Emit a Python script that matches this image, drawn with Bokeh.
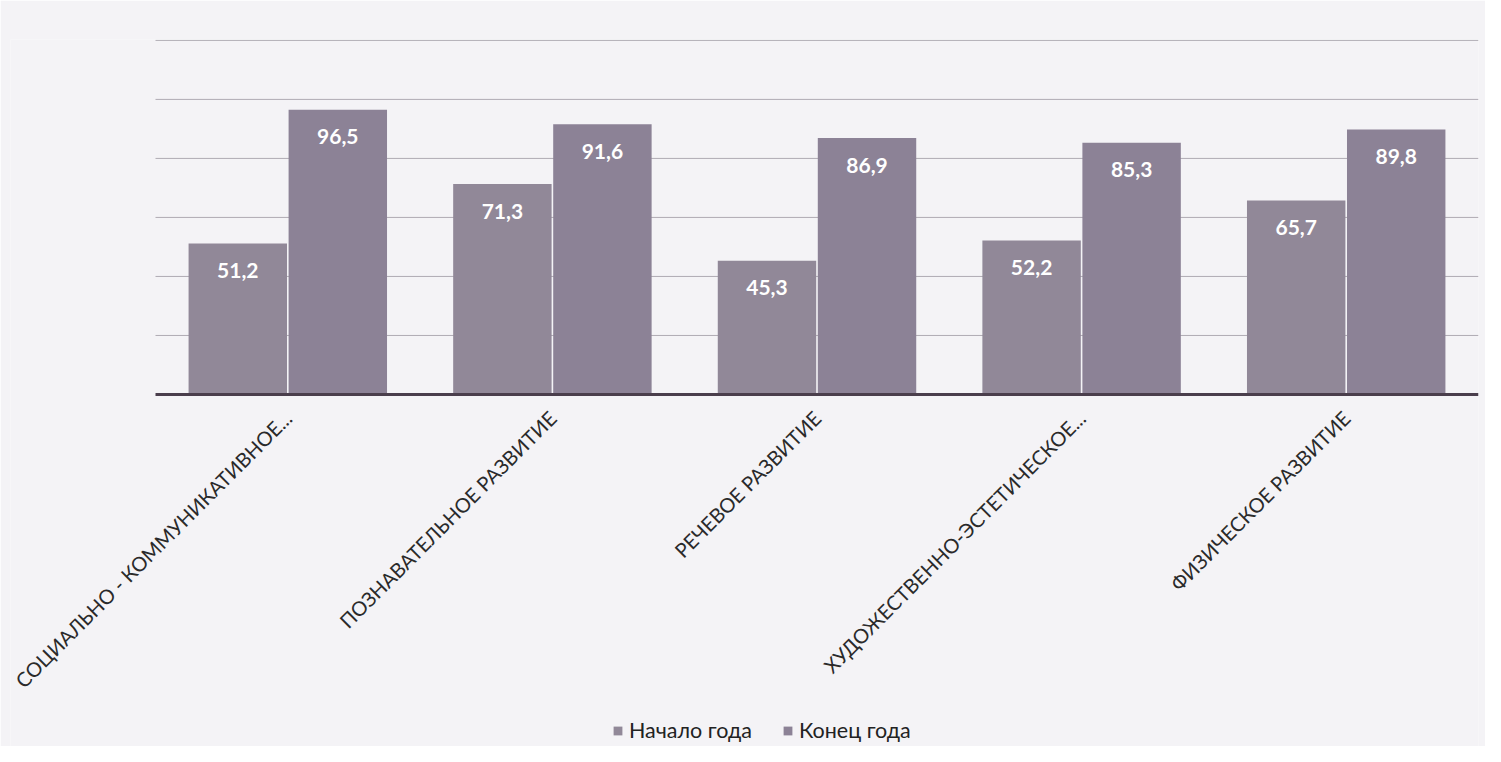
import math
from bokeh.plotting import figure
from bokeh.models import ColumnDataSource, Legend, LegendItem, FixedTicker
from bokeh.transform import dodge
from bokeh.core.properties import value
from bokeh.embed import file_html
from bokeh.resources import INLINE

categories = [
    "СОЦИАЛЬНО - КОММУНИКАТИВНОЕ...",
    "ПОЗНАВАТЕЛЬНОЕ РАЗВИТИЕ",
    "РЕЧЕВОЕ РАЗВИТИЕ",
    "ХУДОЖЕСТВЕННО-ЭСТЕТИЧЕСКОЕ...",
    "ФИЗИЧЕСКОЕ РАЗВИТИЕ",
]
start_year = [51.2, 71.3, 45.3, 52.2, 65.7]
end_year = [96.5, 91.6, 86.9, 85.3, 89.8]
series_names = ["Начало года", "Конец года"]
grid_ticks = [20, 40, 60, 80, 100, 120]

def fmt(v):
    return f"{v:.1f}".replace(".", ",")

idx = list(range(len(categories)))
src = ColumnDataSource(dict(
    x=idx,
    start=start_year,
    end=end_year,
    start_lbl=[fmt(v) for v in start_year],
    end_lbl=[fmt(v) for v in end_year],
))

BG = "#f4f3f6"
C1 = "#918898"
C2 = "#8c8296"
n = len(categories)

# frame spans the lower area and extends left so rotated labels and legend are not clipped;
# the category axis is pinned at y = 0
p = figure(
    x_range=(-1.048, n - 0.5),
    y_range=(-119.3, 120.3),
    width=1485, height=746,
    output_backend="svg", toolbar_location=None,
    min_border_left=10, min_border_right=7,
    min_border_top=39, min_border_bottom=0,
)
p.background_fill_color = BG
p.border_fill_color = BG
p.outline_line_color = None
p.xgrid.visible = False
p.ygrid.visible = False

# gridlines across the category area only
p.segment(x0=[-0.5] * len(grid_ticks), x1=[n - 0.5] * len(grid_ticks),
          y0=grid_ticks, y1=grid_ticks, line_color="#afabb3", line_width=1)

r1 = p.vbar(x=dodge("x", -0.189), top="start", width=0.372,
            source=src, fill_color=C1, line_color=None)
r2 = p.vbar(x=dodge("x", 0.189), top="end", width=0.372,
            source=src, fill_color=C2, line_color=None)

# baseline
p.segment(x0=[-0.5], x1=[n - 0.5], y0=[0], y1=[0], line_color="#4a3e4c", line_width=3)

for off, col, lbl in [(-0.189, "start", "start_lbl"), (0.189, "end", "end_lbl")]:
    p.text(x=dodge("x", off), y=col, text=lbl, source=src,
           text_color="white", text_font=value("Lato"), text_font_style="bold",
           text_font_size="21px", text_align="center", text_baseline="middle",
           y_offset=27)

p.yaxis.visible = False

xa = p.xaxis[0]
xa.fixed_location = 0
xa.ticker = FixedTicker(ticks=idx)
xa.major_label_overrides = {i: c for i, c in zip(idx, categories)}
xa.axis_line_color = None
xa.major_tick_line_color = None
xa.minor_tick_line_color = None
xa.major_label_orientation = math.pi / 4
xa.major_label_text_font = "Lato"
xa.major_label_text_font_size = "20px"
xa.major_label_text_color = "#2a2a2a"
xa.major_label_standoff = 14

legend = Legend(
    items=[LegendItem(label=series_names[0], renderers=[r1]),
           LegendItem(label=series_names[1], renderers=[r2])],
    orientation="horizontal",
    location=(602, 3),
    background_fill_alpha=0, border_line_color=None,
    label_text_font="Lato", label_text_font_size="21.5px", label_text_color="#222222",
    glyph_width=11, glyph_height=11, spacing=30, padding=0, margin=0,
    label_standoff=6,
)
p.add_layout(legend, "center")

open("out.html", "w").write(file_html(p, INLINE))
